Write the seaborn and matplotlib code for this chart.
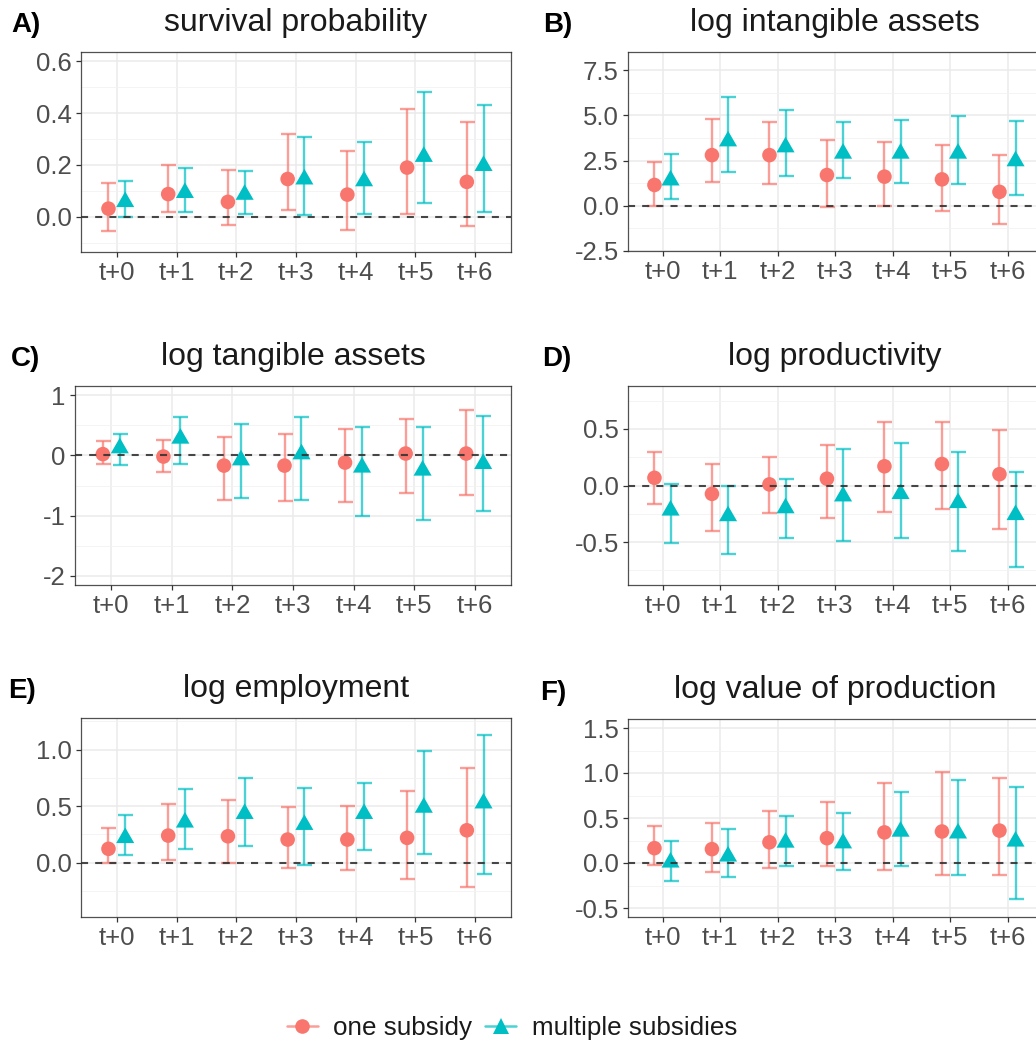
import numpy as np
import pandas as pd
import matplotlib
matplotlib.use("Agg")
import matplotlib.pyplot as plt
import seaborn as sns
from matplotlib.lines import Line2D
from matplotlib.legend_handler import HandlerTuple

# ---------------- data ----------------
periods = ["t+0", "t+1", "t+2", "t+3", "t+4", "t+5", "t+6"]
groups = ["one subsidy", "multiple subsidies"]

# A) survival probability
surv_one_est = [0.032, 0.088, 0.058, 0.146, 0.086, 0.190, 0.135]
surv_one_lo = [-0.055, 0.020, -0.030, 0.028, -0.049, 0.013, -0.035]
surv_one_hi = [0.130, 0.200, 0.180, 0.320, 0.252, 0.417, 0.364]
surv_mult_est = [0.058, 0.093, 0.086, 0.145, 0.138, 0.232, 0.197]
surv_mult_lo = [0.000, 0.020, 0.010, 0.006, 0.010, 0.052, 0.019]
surv_mult_hi = [0.140, 0.190, 0.177, 0.307, 0.288, 0.480, 0.432]

# B) log intangible assets
intang_one_est = [1.15, 2.80, 2.80, 1.70, 1.61, 1.46, 0.77]
intang_one_lo = [0.00, 1.34, 1.19, -0.09, -0.04, -0.27, -1.00]
intang_one_hi = [2.43, 4.81, 4.61, 3.62, 3.51, 3.38, 2.78]
intang_mult_est = [1.41, 3.57, 3.24, 2.89, 2.89, 2.89, 2.47]
intang_mult_lo = [0.40, 1.87, 1.65, 1.55, 1.24, 1.19, 0.59]
intang_mult_hi = [2.84, 6.04, 5.30, 4.63, 4.72, 4.94, 4.70]

# C) log tangible assets
tang_one_est = [0.02, -0.02, -0.17, -0.17, -0.12, 0.03, 0.03]
tang_one_lo = [-0.15, -0.27, -0.74, -0.75, -0.78, -0.63, -0.66]
tang_one_hi = [0.24, 0.25, 0.30, 0.36, 0.43, 0.61, 0.75]
tang_mult_est = [0.12, 0.28, -0.08, 0.02, -0.20, -0.25, -0.14]
tang_mult_lo = [-0.16, -0.14, -0.71, -0.74, -1.01, -1.07, -0.93]
tang_mult_hi = [0.36, 0.63, 0.52, 0.64, 0.47, 0.47, 0.66]

# D) log productivity
prod_one_est = [0.068, -0.074, 0.010, 0.060, 0.170, 0.190, 0.100]
prod_one_lo = [-0.160, -0.405, -0.240, -0.290, -0.230, -0.210, -0.385]
prod_one_hi = [0.300, 0.190, 0.250, 0.360, 0.560, 0.565, 0.490]
prod_mult_est = [-0.220, -0.270, -0.200, -0.095, -0.074, -0.154, -0.260]
prod_mult_lo = [-0.510, -0.610, -0.460, -0.490, -0.460, -0.580, -0.725]
prod_mult_hi = [0.010, -0.006, 0.060, 0.320, 0.380, 0.300, 0.120]

# E) log employment
empl_one_est = [0.123, 0.240, 0.234, 0.205, 0.205, 0.220, 0.287]
empl_one_lo = [0.000, 0.020, -0.006, -0.044, -0.064, -0.146, -0.219]
empl_one_hi = [0.310, 0.520, 0.556, 0.497, 0.503, 0.635, 0.842]
empl_mult_est = [0.220, 0.357, 0.433, 0.336, 0.433, 0.488, 0.526]
empl_mult_lo = [0.067, 0.117, 0.152, -0.020, 0.111, 0.073, -0.102]
empl_mult_hi = [0.420, 0.650, 0.746, 0.658, 0.708, 0.985, 1.126]

# F) log value of production
vprod_one_est = [0.165, 0.154, 0.230, 0.276, 0.340, 0.350, 0.360]
vprod_one_lo = [-0.020, -0.100, -0.055, -0.037, -0.080, -0.130, -0.130]
vprod_one_hi = [0.410, 0.450, 0.577, 0.680, 0.890, 1.010, 0.945]
vprod_mult_est = [0.007, 0.074, 0.228, 0.220, 0.350, 0.330, 0.240]
vprod_mult_lo = [-0.200, -0.160, -0.037, -0.080, -0.030, -0.130, -0.400]
vprod_mult_hi = [0.250, 0.375, 0.526, 0.560, 0.790, 0.920, 0.846]

panel_letters = ["A)", "B)", "C)", "D)", "E)", "F)"]
panel_titles = ["survival probability", "log intangible assets", "log tangible assets",
                "log productivity", "log employment", "log value of production"]
panel_data = [
    (surv_one_est, surv_one_lo, surv_one_hi, surv_mult_est, surv_mult_lo, surv_mult_hi),
    (intang_one_est, intang_one_lo, intang_one_hi, intang_mult_est, intang_mult_lo, intang_mult_hi),
    (tang_one_est, tang_one_lo, tang_one_hi, tang_mult_est, tang_mult_lo, tang_mult_hi),
    (prod_one_est, prod_one_lo, prod_one_hi, prod_mult_est, prod_mult_lo, prod_mult_hi),
    (empl_one_est, empl_one_lo, empl_one_hi, empl_mult_est, empl_mult_lo, empl_mult_hi),
    (vprod_one_est, vprod_one_lo, vprod_one_hi, vprod_mult_est, vprod_mult_lo, vprod_mult_hi),
]
y_ticks = [
    [0.0, 0.2, 0.4, 0.6],
    [-2.5, 0.0, 2.5, 5.0, 7.5],
    [-2, -1, 0, 1],
    [-0.5, 0.0, 0.5],
    [0.0, 0.5, 1.0],
    [-0.5, 0.0, 0.5, 1.0, 1.5],
]
y_ticklabels = [
    ["0.0", "0.2", "0.4", "0.6"],
    ["-2.5", "0.0", "2.5", "5.0", "7.5"],
    ["-2", "-1", "0", "1"],
    ["-0.5", "0.0", "0.5"],
    ["0.0", "0.5", "1.0"],
    ["-0.5", "0.0", "0.5", "1.0", "1.5"],
]
y_limits = [(-0.135, 0.635), (-2.5, 8.5), (-2.15, 1.15), (-0.88, 0.88), (-0.48, 1.28), (-0.6, 1.6)]

# long table
rows = []
for p, vals in enumerate(panel_data):
    for g, (est, lo, hi) in enumerate([vals[0:3], vals[3:6]]):
        for i, per in enumerate(periods):
            rows.append(dict(panel=p, period=per, pidx=i, group=groups[g],
                             est=est[i], lo=lo[i], hi=hi[i]))
df = pd.DataFrame(rows)

# ---------------- style ----------------
sns.set_style("white")
plt.rcParams['font.family'] = ['Liberation Sans', 'DejaVu Sans']

colors = {"one subsidy": "#F8766D", "multiple subsidies": "#00BFC4"}
tri = [(-1.0, -0.577), (1.0, -0.577), (0.0, 1.155)]
markers = {"one subsidy": "o", "multiple subsidies": tri}
sizes = {"one subsidy": 110, "multiple subsidies": 225}
offsets = {"one subsidy": -0.14, "multiple subsidies": 0.14}

W, H = 1036, 1042
fig = plt.figure(figsize=(W / 100, H / 100), dpi=100)

boxes = [  # left, top, right, bottom in pixels
    (81, 52, 511, 252),
    (628, 52, 1042, 251),
    (75, 386, 511, 585),
    (628, 386, 1042, 585),
    (81, 718, 511, 917),
    (628, 719, 1042, 917),
]
letter_x = [11, 543, 11, 542, 8, 540]

tick_fs = 18.5
title_fs = 23

for p in range(6):
    l, t, r, b = boxes[p]
    ax = fig.add_axes([l / W, 1 - b / H, (r - l) / W, (b - t) / H])
    sub = df[df.panel == p]
    for g in groups:
        s = sub[sub.group == g].copy()
        s["x"] = s.pidx + offsets[g]
        ax.errorbar(s.x, s.est, yerr=[s.est - s.lo, s.hi - s.est], fmt="none",
                    ecolor=colors[g], elinewidth=1.7, capsize=5.4, capthick=1.7,
                    alpha=0.7, zorder=3)
        sns.scatterplot(data=s, x="x", y="est", marker=markers[g], s=sizes[g],
                        color=colors[g], edgecolor="none", linewidth=0, ax=ax,
                        zorder=4, legend=False)
    ax.axhline(0, color="#333333", alpha=0.9, lw=1.5, dashes=(3.4, 3.4), zorder=5)

    ax.set_xticks(range(len(periods)))
    ax.set_xticklabels(periods)
    ax.set_yticks(y_ticks[p])
    ax.set_yticklabels(y_ticklabels[p])
    yt = y_ticks[p]
    step = yt[1] - yt[0]
    minors = [v + step / 2 for v in [yt[0] - step] + list(yt)]
    ax.set_yticks(minors, minor=True)
    ax.set_xlim(-0.6, 6.6)
    ax.set_ylim(*y_limits[p])
    ax.tick_params(axis="y", which="minor", length=0)
    ax.grid(True, which="major", color="#EBEBEB", lw=1.1, zorder=0)
    ax.grid(True, which="minor", axis="y", color="#F2F2F2", lw=0.6, zorder=0)
    ax.set_axisbelow(True)
    ax.tick_params(axis="both", which="major", length=3.6, width=0.9, color="#333333",
                   labelcolor="#4D4D4D", labelsize=tick_fs, pad=3, direction="out",
                   left=True, bottom=True)
    for sp in ax.spines.values():
        sp.set_color("#333333")
        sp.set_linewidth(0.9)
        sp.set_alpha(0.85)
    ax.set_xlabel("")
    ax.set_ylabel("")
    ax.set_title(panel_titles[p], fontsize=title_fs, color="#1A1A1A", pad=15)
    fig.text(letter_x[p] / W, 1 - (t - 19.5) / H, panel_letters[p], fontsize=20,
             fontweight="bold", color="black", ha="left", va="baseline")

# legend
handles = []
for g in groups:
    ln = Line2D([0], [0], color=colors[g], lw=1.8, alpha=0.7)
    mk = Line2D([0], [0], color=colors[g], lw=0, marker="o" if g == groups[0] else "^",
                markersize=10.5 if g == groups[0] else 12, markeredgewidth=0)
    handles.append((ln, mk))
fig.legend(handles, groups, loc="center", bbox_to_anchor=(512 / W, 1 - 1028 / H),
           ncol=2, frameon=False, fontsize=18.7, handlelength=1.2, handletextpad=0.6,
           columnspacing=0.5, handler_map={tuple: HandlerTuple(ndivide=1)},
           labelcolor="#1A1A1A")

fig.savefig("out.png", dpi=100)
